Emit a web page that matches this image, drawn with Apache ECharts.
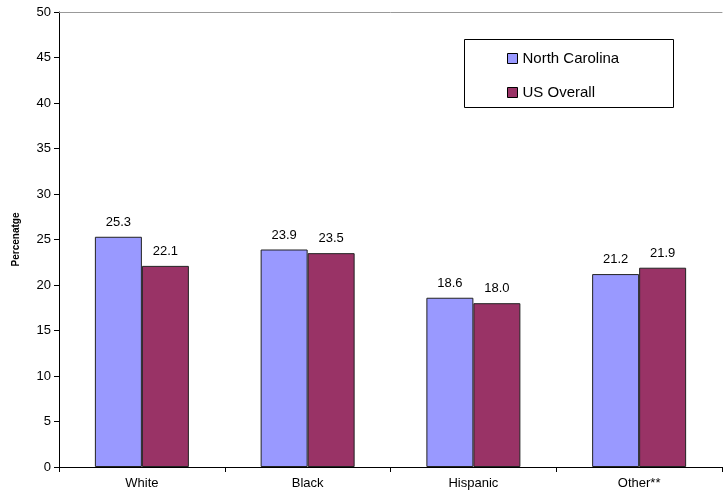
<!DOCTYPE html>
<html>
<head>
<meta charset="utf-8">
<script src="https://cdn.jsdelivr.net/npm/echarts@6/dist/echarts.min.js"></script>
<style>
  html, body { margin: 0; padding: 0; background: #fff; }
  #chart { width: 723px; height: 497px; }
</style>
</head>
<body>
<div id="chart"></div>
<script>
// Categories and percentages per group
const categories = ['White', 'Black', 'Hispanic', 'Other**'];
const northCarolina = [25.3, 23.9, 18.6, 21.2];
const usOverall = [22.1, 23.5, 18.0, 21.9];
const yTicks = { min: 0, max: 50, interval: 5 };

const FONT = '"Liberation Sans", Arial, sans-serif';

const chart = echarts.init(document.getElementById('chart'), null, { renderer: 'canvas' });

const barLabel = {
  show: true,
  position: 'top',
  distance: 8,
  fontFamily: FONT,
  fontSize: 13,
  color: '#000',
  formatter: p => p.value.toFixed(1)
};

chart.setOption({
  animation: false,
  backgroundColor: '#fff',
  grid: { left: 59, right: 1, top: 12, bottom: 30, containLabel: false },
  legend: {
    orient: 'vertical',
    left: 502,
    top: 46,
    itemWidth: 10,
    itemHeight: 10,
    itemGap: 19,
    icon: 'rect',
    textStyle: { fontFamily: FONT, fontSize: 15, color: '#000' },
    itemStyle: { borderColor: '#000', borderWidth: 1 },
    data: ['North Carolina', 'US Overall']
  },
  graphic: [{
    type: 'rect',
    shape: { x: 464.5, y: 39.5, width: 209, height: 68 },
    style: { fill: 'none', stroke: '#000', lineWidth: 1 },
    z: 10
  }],
  xAxis: [
    {
      type: 'category',
      data: categories,
      axisLine: { lineStyle: { color: '#000', width: 1 } },
      axisTick: { show: true, length: 5, lineStyle: { color: '#000' } },
      axisLabel: { fontFamily: FONT, fontSize: 13, color: '#000', margin: 10 }
    },
    {
      // top border of the plot area
      type: 'category',
      data: categories,
      position: 'top',
      axisLine: { show: true, lineStyle: { color: '#999', width: 1 } },
      axisTick: { show: false },
      axisLabel: { show: false }
    }
  ],
  yAxis: {
    type: 'value',
    min: yTicks.min,
    max: yTicks.max,
    interval: yTicks.interval,
    name: 'Percenatge',
    nameLocation: 'middle',
    nameGap: 38,
    nameRotate: 90,
    nameTextStyle: { fontFamily: FONT, fontSize: 10, fontWeight: 'bold', color: '#000' },
    axisLine: { show: true, lineStyle: { color: '#000', width: 1 } },
    axisTick: { show: true, length: 5, inside: false, lineStyle: { color: '#000' } },
    axisLabel: { fontFamily: FONT, fontSize: 13, color: '#000', margin: 8 },
    splitLine: { show: false }
  },
  series: [
    {
      name: 'North Carolina',
      type: 'bar',
      data: northCarolina,
      barWidth: 47,
      barGap: '0%',
      itemStyle: { color: '#9999FF', borderColor: '#222', borderWidth: 1 },
      label: barLabel
    },
    {
      name: 'US Overall',
      type: 'bar',
      data: usOverall,
      barWidth: 47,
      itemStyle: { color: '#993366', borderColor: '#222', borderWidth: 1 },
      label: barLabel
    }
  ]
});
</script>
</body>
</html>
